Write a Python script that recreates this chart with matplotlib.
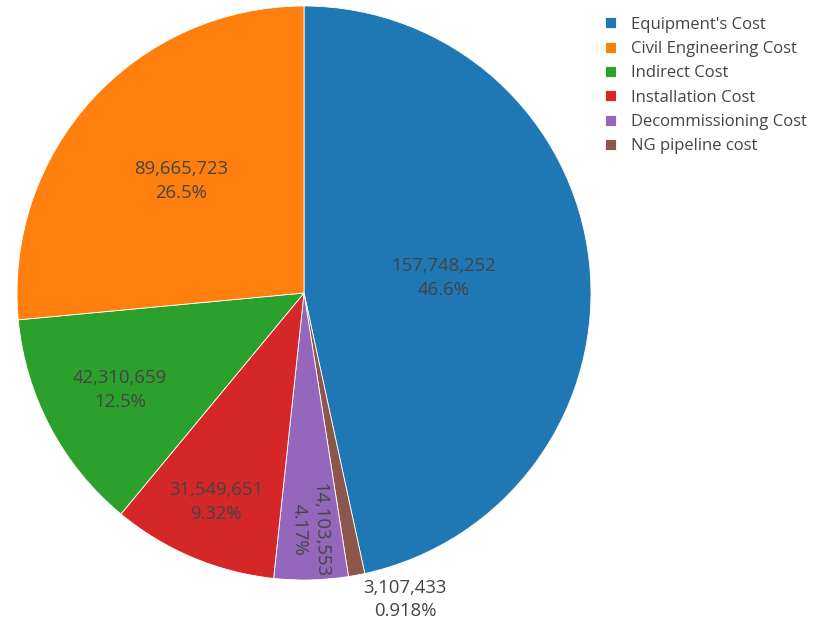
import matplotlib
matplotlib.use("Agg")
import matplotlib.pyplot as plt
import numpy as np

categories = ["Equipment's Cost", "Civil Engineering Cost", "Indirect Cost",
              "Installation Cost", "Decommissioning Cost", "NG pipeline cost"]
values = [157748252, 89665723, 42310659, 31549651, 14103553, 3107433]
colors = ["#1f77b4", "#ff7f0e", "#2ca02c", "#d62728", "#9467bd", "#8c564b"]

# drawing order around the pie (clockwise from 12 o'clock)
order = [0, 5, 4, 3, 2, 1]
# radial placement of inside labels (fraction of radius), style only
label_r = {0: 0.49, 1: 0.58, 2: 0.725, 3: 0.79, 4: 0.826}

plt.rcParams['font.family'] = ['Open Sans', 'DejaVu Sans']
W, H = 813, 623
fig = plt.figure(figsize=(W / 100, H / 100), dpi=100)
cx, cy, R = 304, 293, 287
ax = fig.add_axes([(cx - R) / W, (H - cy - R) / H, 2 * R / W, 2 * R / H])
ax.set_xlim(-1, 1)
ax.set_ylim(-1, 1)
ax.axis('off')

vals = [values[i] for i in order]
cols = [colors[i] for i in order]
wedges, _ = ax.pie(vals, colors=cols, startangle=90, counterclock=False,
                   radius=1.0, center=(0, 0), frame=False,
                   wedgeprops=dict(edgecolor='white', linewidth=0.6))
ax.set_xlim(-1, 1)
ax.set_ylim(-1, 1)

total = float(sum(values))
txtc = "#444444"
fs = 13.3
ls = 1.45
for w, idx in zip(wedges, order):
    mid = np.deg2rad((w.theta1 + w.theta2) / 2.0)
    pct = values[idx] / total * 100
    if pct >= 10:
        ptxt = f"{pct:.1f}%"
    elif pct >= 1:
        ptxt = f"{pct:.3g}%"
    else:
        ptxt = f"{pct:.3f}%"
    txt = f"{values[idx]:,}\n{ptxt}"
    if idx == 5:
        r = 1.015
        ax.text(r * np.cos(mid) + 0.02, r * np.sin(mid), txt, ha='left', va='top',
                multialignment='center', fontsize=fs, color=txtc, linespacing=1.3)
    elif idx == 4:
        r = label_r[idx]
        rot = np.rad2deg(mid) % 360 - 360
        ax.text(r * np.cos(mid), r * np.sin(mid), txt, ha='center', va='center',
                multialignment='center', fontsize=fs, color=txtc, rotation=rot,
                rotation_mode='anchor', linespacing=1.3)
    else:
        r = label_r[idx]
        ax.text(r * np.cos(mid), r * np.sin(mid), txt, ha='center', va='center',
                multialignment='center', fontsize=fs, color=txtc, linespacing=ls)

handles = [wedges[order.index(i)] for i in range(len(categories))]
leg = fig.legend(handles, categories, loc='upper left',
                 bbox_to_anchor=(598 / W, 1 - 10 / H), frameon=False,
                 fontsize=12, handlelength=0.65, handleheight=0.65,
                 handletextpad=0.95, labelspacing=0.5, borderaxespad=0)
for t in leg.get_texts():
    t.set_color(txtc)

fig.savefig("out.png", dpi=100)
